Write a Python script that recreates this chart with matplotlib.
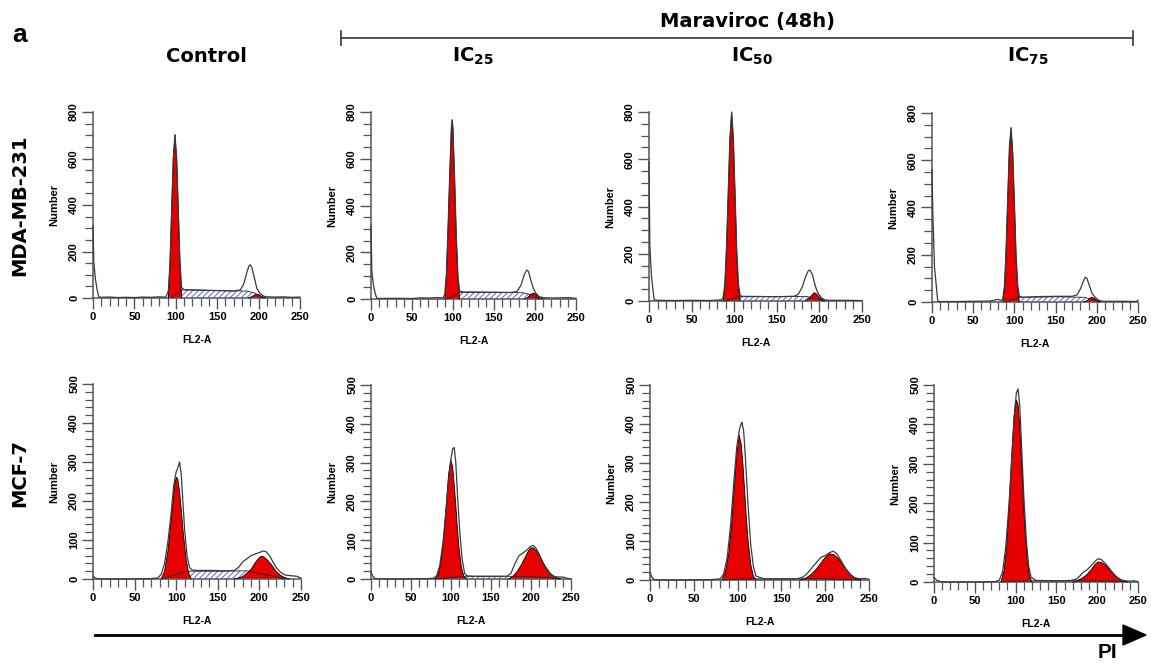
import matplotlib
matplotlib.use("Agg")
import matplotlib.pyplot as plt
from matplotlib.ticker import MultipleLocator
from matplotlib.lines import Line2D
from matplotlib.patches import Polygon

# ---------------- data ----------------
COLUMNS = ["Control", r"$\mathbf{IC}_{\mathbf{25}}$", r"$\mathbf{IC}_{\mathbf{50}}$", r"$\mathbf{IC}_{\mathbf{75}}$"]
ROWS = ["MDA-MB-231", "MCF-7"]
ROW_YMAX = [800, 500]
ROW_YMINOR = [50, 20]
X_TICKS = [0, 50, 100, 150, 200, 250]

# MDA-MB-231 / Control
MDA_CTRL_RAW_X = [0, 1, 3, 5, 7, 10, 20, 30, 40, 50, 60, 70, 80, 88, 91, 93, 95, 97, 99, 101, 103, 105, 107, 110, 120, 140, 160, 170, 178, 182, 185, 188, 190, 192, 195, 198, 202, 206, 210, 220, 230, 240, 250]
MDA_CTRL_RAW_Y = [310, 150, 80, 35, 5, 3, 4, 2, 3, 2, 4, 3, 5, 4, 30, 150, 380, 600, 703, 600, 380, 160, 45, 36, 35, 33, 31, 30, 35, 60, 100, 135, 143, 130, 85, 40, 18, 8, 5, 4, 5, 3, 4]
MDA_CTRL_G1_X = [91, 93, 95, 97, 99, 101, 103, 105, 107]
MDA_CTRL_G1_Y = [0, 150, 380, 600, 700, 600, 380, 150, 0]
MDA_CTRL_S_X = [95, 100, 107, 150, 185, 195, 205]
MDA_CTRL_S_Y = [0, 15, 35, 32, 30, 22, 0]
MDA_CTRL_G2_X = [188, 192, 196, 198, 200, 204, 208]
MDA_CTRL_G2_Y = [0, 6, 14, 16, 14, 6, 0]

# MDA-MB-231 / IC25
MDA_IC25_RAW_X = [0, 1, 3, 5, 7, 10, 30, 50, 60, 70, 80, 88, 90, 92, 94, 96, 98, 99, 100, 102, 104, 106, 108, 112, 130, 150, 170, 178, 183, 187, 190, 192, 195, 198, 201, 205, 210, 220, 230, 240, 250]
MDA_IC25_RAW_Y = [316, 120, 60, 25, 4, 2, 3, 2, 5, 4, 6, 5, 20, 110, 310, 530, 730, 767, 725, 510, 270, 100, 35, 30, 30, 29, 28, 32, 60, 105, 124, 118, 80, 45, 25, 10, 6, 4, 5, 6, 3]
MDA_IC25_G1_X = [90, 92, 94, 96, 98, 99, 100, 102, 104, 106, 108]
MDA_IC25_G1_Y = [0, 100, 300, 520, 720, 765, 720, 500, 260, 90, 0]
MDA_IC25_S_X = [93, 100, 108, 150, 185, 195, 205]
MDA_IC25_S_Y = [0, 12, 28, 28, 27, 18, 0]
MDA_IC25_G2_X = [188, 192, 195, 198, 201, 205, 209]
MDA_IC25_G2_Y = [0, 10, 20, 25, 20, 8, 0]

# MDA-MB-231 / IC50
MDA_IC50_RAW_X = [0, 1, 3, 6, 10, 30, 50, 70, 80, 85, 87, 89, 91, 93, 95, 97, 99, 101, 103, 105, 107, 110, 130, 150, 170, 175, 180, 184, 187, 189, 192, 195, 198, 202, 206, 210, 230, 250]
MDA_IC50_RAW_Y = [590, 235, 100, 5, 3, 2, 3, 2, 4, 5, 15, 70, 230, 460, 690, 800, 690, 450, 210, 70, 22, 19, 19, 18, 20, 28, 60, 105, 128, 131, 110, 65, 35, 15, 5, 3, 3, 2]
MDA_IC50_G1_X = [87, 89, 91, 93, 95, 97, 99, 101, 103, 105, 107]
MDA_IC50_G1_Y = [0, 60, 220, 450, 680, 795, 680, 440, 200, 60, 0]
MDA_IC50_S_X = [90, 97, 106, 150, 185, 195, 205]
MDA_IC50_S_Y = [0, 8, 20, 19, 19, 12, 0]
MDA_IC50_G2_X = [184, 188, 192, 194, 197, 201, 206]
MDA_IC50_G2_Y = [0, 12, 28, 35, 28, 12, 0]

# MDA-MB-231 / IC75
MDA_IC75_RAW_X = [0, 1, 3, 7, 10, 30, 50, 70, 76, 80, 84, 86, 88, 90, 92, 94, 96, 98, 100, 102, 104, 106, 110, 130, 150, 170, 176, 180, 184, 186, 188, 191, 194, 198, 202, 206, 210, 230, 248, 250]
MDA_IC75_RAW_Y = [560, 380, 150, 3, 2, 2, 3, 4, 8, 11, 6, 15, 70, 230, 450, 660, 738, 630, 420, 200, 70, 24, 20, 23, 24, 24, 30, 55, 90, 105, 100, 70, 38, 20, 8, 4, 3, 3, 2, 8]
MDA_IC75_G1_X = [86, 88, 90, 92, 94, 96, 98, 100, 102, 104, 106]
MDA_IC75_G1_Y = [0, 60, 220, 440, 650, 735, 620, 410, 190, 60, 0]
MDA_IC75_S_X = [89, 96, 106, 150, 185, 195, 203]
MDA_IC75_S_Y = [0, 8, 20, 22, 20, 10, 0]
MDA_IC75_G2_X = [185, 189, 192, 194, 197, 200, 204]
MDA_IC75_G2_Y = [0, 8, 17, 20, 16, 7, 0]

# MCF-7 / Control
MCF_CTRL_RAW_X = [0, 2, 5, 10, 40, 70, 78, 82, 86, 90, 94, 97, 100, 102, 104, 106, 108, 110, 113, 116, 119, 125, 140, 160, 170, 175, 180, 185, 190, 195, 200, 205, 208, 212, 216, 220, 225, 230, 235, 240, 245, 250]
MCF_CTRL_RAW_Y = [8, 3, 1, 0, 0, 1, 3, 12, 40, 95, 170, 240, 275, 285, 300, 270, 200, 130, 60, 30, 23, 22, 22, 21, 22, 30, 44, 52, 60, 64, 68, 72, 70, 60, 45, 30, 18, 11, 9, 8, 7, 2]
MCF_CTRL_G1_X = [82, 86, 90, 93, 95, 97, 99, 100.5, 102, 104, 106, 108, 110, 112, 115, 118]
MCF_CTRL_G1_Y = [0, 20, 71, 130, 175, 220, 252, 261, 255, 225, 180, 130, 88, 50, 15, 0]
MCF_CTRL_S_X = [82, 95, 113, 150, 185, 200, 215, 232]
MCF_CTRL_S_Y = [0, 8, 20, 20, 21, 15, 8, 0]
MCF_CTRL_G2_X = [170, 180, 185, 190, 195, 200, 202, 205, 210, 215, 220, 225, 230, 236]
MCF_CTRL_G2_Y = [0, 6, 15, 25, 42, 55, 58, 57, 48, 35, 20, 10, 4, 0]

# MCF-7 / IC25
MCF_IC25_RAW_X = [0, 2, 5, 10, 40, 70, 78, 82, 86, 90, 94, 97, 100, 102, 104, 106, 108, 111, 114, 117, 120, 130, 150, 170, 175, 180, 185, 190, 195, 200, 203, 206, 210, 215, 220, 225, 230, 235, 240, 245, 250]
MCF_IC25_RAW_Y = [18, 8, 1, 0, 0, 1, 2, 8, 35, 95, 180, 255, 310, 335, 339, 300, 220, 120, 50, 15, 8, 7, 7, 7, 15, 40, 60, 67, 75, 85, 86, 80, 65, 42, 22, 10, 6, 5, 5, 2, 0]
MCF_IC25_G1_X = [80, 84, 88, 91, 94, 97, 99.7, 102, 104, 106, 108, 110, 113, 116, 119]
MCF_IC25_G1_Y = [0, 12, 50, 110, 190, 270, 307, 290, 245, 190, 130, 80, 30, 8, 0]
MCF_IC25_S_X = [82, 100, 118, 150, 175, 200, 225, 235]
MCF_IC25_S_Y = [0, 4, 7, 7, 7, 6, 3, 0]
MCF_IC25_G2_X = [172, 178, 183, 188, 193, 197, 200, 203, 207, 212, 218, 224, 230, 237]
MCF_IC25_G2_Y = [0, 8, 20, 37, 57, 73, 80, 80, 72, 55, 32, 15, 5, 0]

# MCF-7 / IC50
MCF_IC50_RAW_X = [0, 2, 5, 10, 40, 70, 80, 84, 88, 92, 96, 99, 102, 104, 105, 107, 109, 112, 115, 118, 121, 130, 150, 168, 175, 180, 185, 190, 195, 200, 205, 209, 213, 218, 223, 228, 233, 240, 245, 250]
MCF_IC50_RAW_Y = [20, 8, 1, 0, 0, 1, 3, 15, 55, 140, 260, 340, 385, 400, 404, 380, 310, 190, 90, 35, 10, 3, 3, 3, 8, 18, 32, 45, 58, 63, 70, 74, 68, 50, 30, 15, 6, 3, 4, 2]
MCF_IC50_G1_X = [82, 86, 90, 93, 96, 99, 101.8, 104, 106, 108, 110, 112, 115, 118, 121]
MCF_IC50_G1_Y = [0, 20, 70, 140, 230, 320, 371, 350, 300, 230, 160, 100, 40, 10, 0]
MCF_IC50_S_X = [84, 100, 120, 150, 175, 200, 230, 240]
MCF_IC50_S_Y = [0, 2, 3, 3, 3, 3, 1, 0]
MCF_IC50_G2_X = [172, 178, 184, 190, 195, 200, 205, 210, 215, 220, 225, 230, 235, 241]
MCF_IC50_G2_Y = [0, 5, 14, 28, 43, 58, 67, 65, 55, 40, 25, 12, 4, 0]

# MCF-7 / IC75
MCF_IC75_RAW_X = [0, 3, 8, 15, 40, 60, 75, 80, 84, 88, 92, 96, 99, 101, 103, 105, 107, 110, 113, 116, 119, 125, 150, 168, 175, 180, 183, 187, 192, 197, 201, 205, 210, 215, 220, 225, 230, 235, 240, 245, 250]
MCF_IC75_RAW_Y = [12, 5, 1, 0, 0, 0, 1, 5, 25, 90, 200, 340, 440, 480, 490, 450, 360, 220, 110, 40, 12, 4, 3, 4, 8, 18, 25, 30, 40, 52, 59, 57, 47, 34, 21, 11, 5, 3, 2, 3, 1]
MCF_IC75_G1_X = [82, 86, 89, 92, 95, 98, 101, 103, 105, 107, 109, 111, 114, 117, 120]
MCF_IC75_G1_Y = [0, 30, 90, 190, 310, 420, 462, 450, 400, 320, 230, 150, 65, 15, 0]
MCF_IC75_S_X = [84, 100, 120, 150, 175, 200, 230, 238]
MCF_IC75_S_Y = [0, 2, 3, 3, 3, 3, 1, 0]
MCF_IC75_G2_X = [170, 176, 182, 188, 193, 197, 201, 205, 210, 215, 220, 225, 230, 237]
MCF_IC75_G2_Y = [0, 4, 10, 20, 32, 44, 51, 50, 43, 32, 20, 10, 4, 0]

PANELS = [
    [(MDA_CTRL_RAW_X, MDA_CTRL_RAW_Y, MDA_CTRL_G1_X, MDA_CTRL_G1_Y, MDA_CTRL_S_X, MDA_CTRL_S_Y, MDA_CTRL_G2_X, MDA_CTRL_G2_Y),
     (MDA_IC25_RAW_X, MDA_IC25_RAW_Y, MDA_IC25_G1_X, MDA_IC25_G1_Y, MDA_IC25_S_X, MDA_IC25_S_Y, MDA_IC25_G2_X, MDA_IC25_G2_Y),
     (MDA_IC50_RAW_X, MDA_IC50_RAW_Y, MDA_IC50_G1_X, MDA_IC50_G1_Y, MDA_IC50_S_X, MDA_IC50_S_Y, MDA_IC50_G2_X, MDA_IC50_G2_Y),
     (MDA_IC75_RAW_X, MDA_IC75_RAW_Y, MDA_IC75_G1_X, MDA_IC75_G1_Y, MDA_IC75_S_X, MDA_IC75_S_Y, MDA_IC75_G2_X, MDA_IC75_G2_Y)],
    [(MCF_CTRL_RAW_X, MCF_CTRL_RAW_Y, MCF_CTRL_G1_X, MCF_CTRL_G1_Y, MCF_CTRL_S_X, MCF_CTRL_S_Y, MCF_CTRL_G2_X, MCF_CTRL_G2_Y),
     (MCF_IC25_RAW_X, MCF_IC25_RAW_Y, MCF_IC25_G1_X, MCF_IC25_G1_Y, MCF_IC25_S_X, MCF_IC25_S_Y, MCF_IC25_G2_X, MCF_IC25_G2_Y),
     (MCF_IC50_RAW_X, MCF_IC50_RAW_Y, MCF_IC50_G1_X, MCF_IC50_G1_Y, MCF_IC50_S_X, MCF_IC50_S_Y, MCF_IC50_G2_X, MCF_IC50_G2_Y),
     (MCF_IC75_RAW_X, MCF_IC75_RAW_Y, MCF_IC75_G1_X, MCF_IC75_G1_Y, MCF_IC75_S_X, MCF_IC75_S_Y, MCF_IC75_G2_X, MCF_IC75_G2_Y)],
]

# ---------------- layout (pixels) ----------------
W, H = 1151, 665
# (left, right, top, bottom) of each plotting area
AX_PIX = [
    [(93, 300, 112, 298), (371, 576, 112, 299), (649, 862, 112, 301), (932, 1138, 113, 302)],
    [(93, 301, 384, 579), (371, 571, 385, 579), (650, 869, 385, 580), (934, 1138, 385, 582)],
]
COL_X = [206, 473, 752, 1028]

RED = "#e60000"
BLUE = "#5a64e6"
AXC = "#555555"
TICKFONT = "Liberation Sans"

plt.rcParams["mathtext.fontset"] = "dejavusans"
plt.rcParams["hatch.linewidth"] = 0.7

fig = plt.figure(figsize=(W / 100, H / 100), dpi=100)


def px_rect(L, R, T, B):
    return [L / W, 1 - B / H, (R - L) / W, (B - T) / H]


for r in range(2):
    for c in range(4):
        L, R, T, B = AX_PIX[r][c]
        ax = fig.add_axes(px_rect(L, R, T, B))
        ax.patch.set_alpha(0)
        rx, ry, g1x, g1y, sx, sy, g2x, g2y = PANELS[r][c]
        ymax = ROW_YMAX[r]
        ax.set_xlim(0, 250)
        ax.set_ylim(0, ymax)

        # S phase (hatched)
        ax.fill_between(sx, 0, sy, facecolor="white", edgecolor=BLUE, hatch="//////",
                        linewidth=0, zorder=1, clip_on=False)
        # G1 / G2 peaks
        ax.fill_between(g1x, 0, g1y, facecolor=RED, edgecolor="none", zorder=2, clip_on=False)
        ax.fill_between(g2x, 0, g2y, facecolor=RED, edgecolor="none", zorder=2, clip_on=False)
        ax.plot(g1x, g1y, color="black", lw=0.6, zorder=3, clip_on=False)
        ax.plot(g2x, g2y, color="black", lw=0.6, zorder=3, clip_on=False)
        ax.plot(sx, sy, color="#222222", lw=0.6, zorder=3, clip_on=False)
        # raw histogram outline
        ax.plot(rx, ry, color="#3a3a3a", lw=0.9, zorder=4, clip_on=False)

        for s in ("top", "right"):
            ax.spines[s].set_visible(False)
        for s in ("left", "bottom"):
            ax.spines[s].set_color(AXC)
            ax.spines[s].set_linewidth(1.1)
        ax.spines["left"].set_bounds(0, ymax)
        ax.spines["bottom"].set_bounds(0, 250)

        ax.set_xticks(X_TICKS)
        ax.xaxis.set_minor_locator(MultipleLocator(10))
        ax.yaxis.set_major_locator(MultipleLocator(200 if r == 0 else 100))
        ax.yaxis.set_minor_locator(MultipleLocator(ROW_YMINOR[r]))
        ax.tick_params(which="major", length=8, width=1.0, color=AXC, pad=2)
        ax.tick_params(which="minor", length=5.5, width=0.9, color=AXC)
        ax.tick_params(axis="y", labelrotation=90)
        for lab in ax.get_xticklabels() + ax.get_yticklabels():
            lab.set_fontfamily(TICKFONT)
            lab.set_fontweight("bold")
            lab.set_fontsize(8)
        for lab in ax.get_yticklabels():
            lab.set_va("center")

        ax.set_ylabel("Number", fontsize=8, fontweight="bold", family=TICKFONT)
        ax.yaxis.set_label_coords(-34 / (R - L), 0.5)
        ax.set_xlabel("FL2-A", fontsize=7.5, fontweight="bold", family=TICKFONT)
        ax.xaxis.set_label_coords(0.5, -37 / (B - T))


def ftext(x, y, s, **kw):
    fig.text(x / W, 1 - y / H, s, ha="center", va="center", **kw)


HEAD = dict(fontsize=14, fontweight="bold", family="DejaVu Sans", color="black")
ftext(20, 35, "a", fontsize=19, fontweight="bold", family="Liberation Sans")
ftext(747, 21, "Maraviroc (48h)", **HEAD)
for c in range(4):
    ftext(COL_X[c], 56, COLUMNS[c], **HEAD)
ftext(20, 205, ROWS[0], rotation=90, **HEAD)
ftext(20, 473, ROWS[1], rotation=90, **HEAD)

# bracket over treated columns
by = 1 - 38 / H
fig.add_artist(Line2D([341 / W, 1133 / W], [by, by], color="#444444", lw=1.3))
for bx in (341, 1133):
    fig.add_artist(Line2D([bx / W, bx / W], [by - 7 / H, by + 7 / H], color="#444444", lw=1.3))

# PI arrow
ay = 1 - 635 / H
fig.add_artist(Line2D([95 / W, 1125 / W], [ay, ay], color="black", lw=2.0))
fig.add_artist(Polygon([[1123 / W, ay + 10 / H], [1146 / W, ay], [1123 / W, ay - 10 / H]],
                       closed=True, facecolor="black", edgecolor="black", transform=fig.transFigure))
ftext(1107, 653, "PI", fontsize=15, fontweight="bold", family="Liberation Sans")

fig.savefig("out.png", dpi=100)
